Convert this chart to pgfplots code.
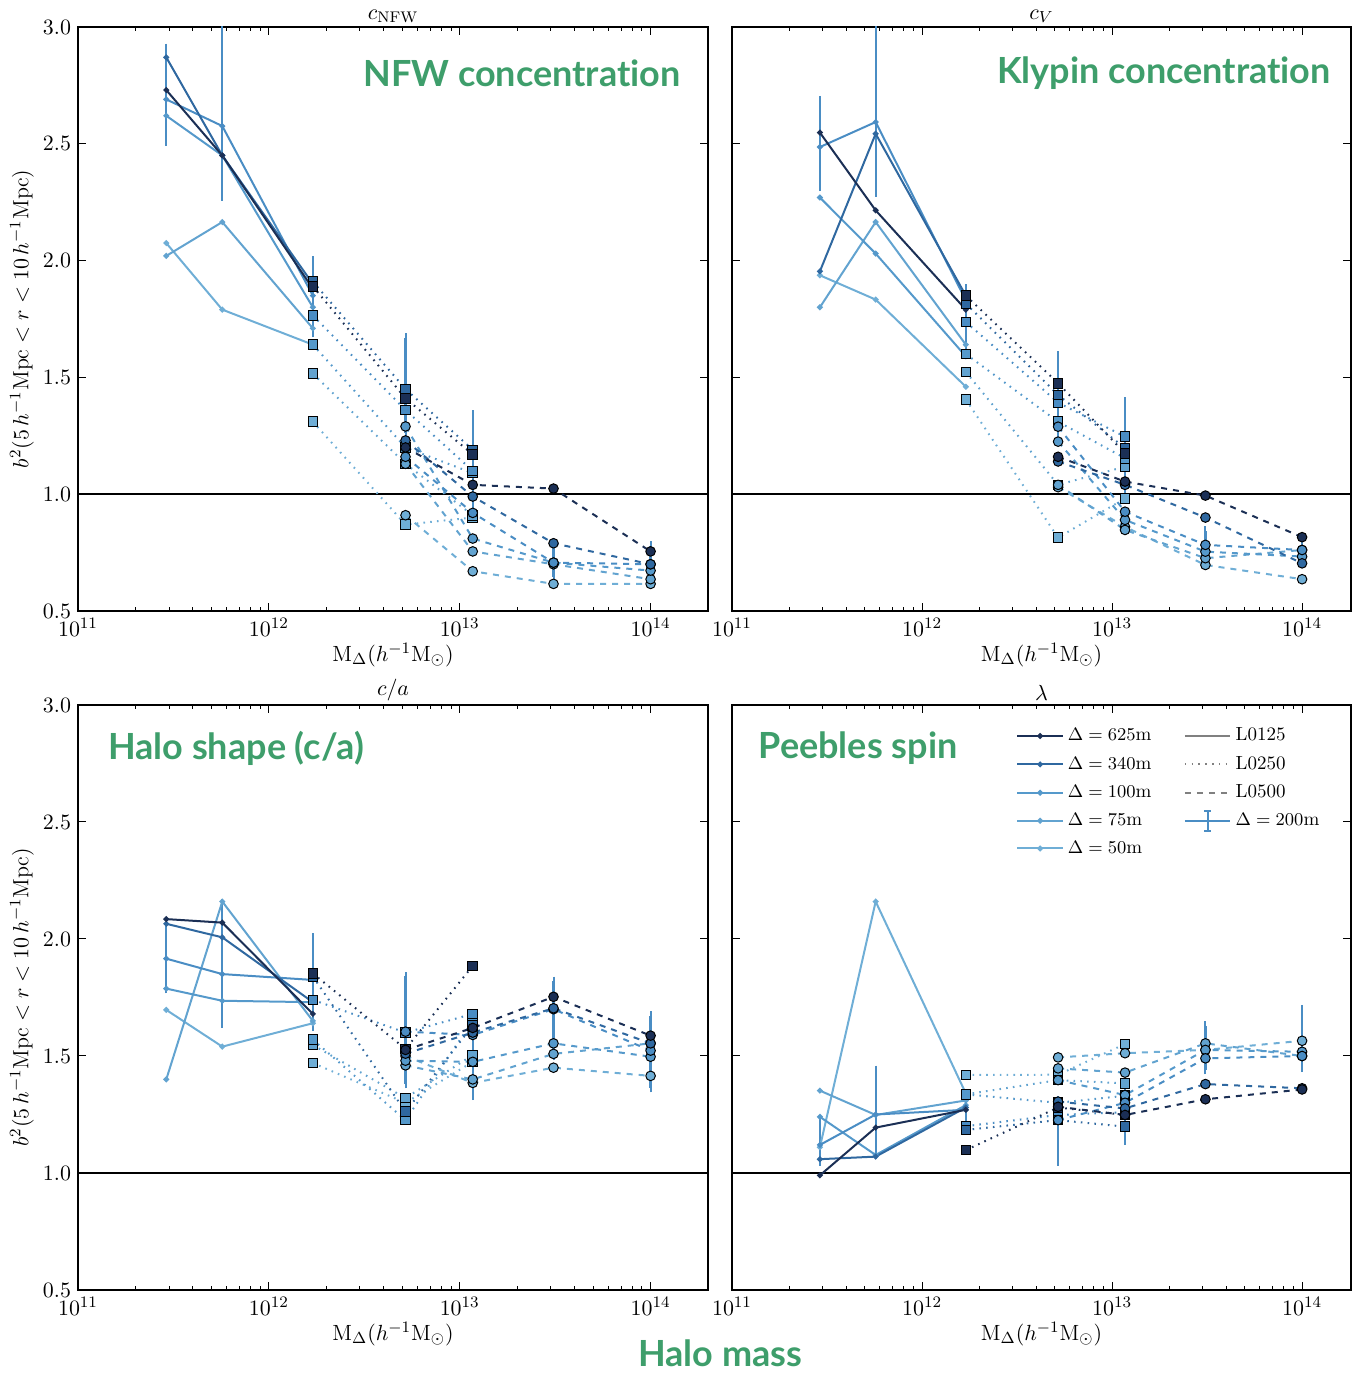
\documentclass[border=0pt]{standalone}
\usepackage{pgfplots}
\pgfplotsset{compat=1.18}
\usepackage{fontspec}
\newfontfamily\annotfont{Lato}[Ligatures=NoCommon]
\definecolor{c625}{HTML}{1B2F55}
\definecolor{c340}{HTML}{2F68A0}
\definecolor{c200}{HTML}{4A8DC4}
\definecolor{c100}{HTML}{5599CB}
\definecolor{c75}{HTML}{62A3D0}
\definecolor{c50}{HTML}{6FAED6}
\definecolor{annot}{HTML}{3E9E6B}
\pgfplotsset{
  every axis/.append style={
    scale only axis, width=315pt, height=292pt,
    xmode=log, xmin=1e11, xmax=2e14,
    ymin=0.5, ymax=3.0,
    ytick={0.5,1.0,1.5,2.0,2.5,3.0},
    yticklabel style={/pgf/number format/fixed,/pgf/number format/fixed zerofill,/pgf/number format/precision=1},
    tick label style={font=\fontsize{11}{13}\selectfont},
    label style={font=\fontsize{11}{13}\selectfont},
    axis line style={line width=0.8pt, black},
    major tick length=4pt, minor tick length=2pt,
    tick style={black, line width=0.5pt},
    xlabel={$\mathrm{M}_\Delta(h^{-1}\mathrm{M}_\odot)$},
    xlabel style={at={(axis description cs:0.5,-0.075)}, anchor=center},
  },
  s125/.style={forget plot, solid, line width=1pt, mark=*, mark size=0.9pt},
  s250/.style={forget plot, line width=1pt, dash pattern=on 0.8pt off 2.6pt, mark=square*, mark size=2.4pt, mark options={solid, draw=black, line width=0.5pt}},
  s500/.style={forget plot, line width=1pt, dash pattern=on 3pt off 3pt, mark=*, mark size=2.4pt, mark options={solid, draw=black, line width=0.5pt}},
}
\newcommand{\LA}[4]{\addplot[#1,s125] coordinates {(2.9e11,#2)(5.7e11,#3)(1.7e12,#4)};}
\newcommand{\LB}[4]{\addplot[#1,s250] coordinates {(1.7e12,#2)(5.2e12,#3)(1.17e13,#4)};}
\newcommand{\LC}[5]{\addplot[#1,s500] coordinates {(5.2e12,#2)(1.17e13,#3)(3.1e13,#4)(1e14,#5)};}
\newcommand{\one}{\addplot[black, line width=1.2pt, forget plot] coordinates {(1e11,1)(3e14,1)};}
\newcommand{\ERR}[1]{\addplot[c200, forget plot, draw=none, mark=none,
  /pgfplots/error bars/y dir=both, /pgfplots/error bars/y explicit,
  /pgfplots/error bars/error bar style={c200, line width=1.1pt, solid},
  /pgfplots/error bars/error mark options={c200, line width=1pt, mark size=2.2pt}] coordinates {#1};}
\begin{document}
\begin{tikzpicture}
% ---------------- top left: c_NFW
\begin{axis}[at={(39pt,381.5pt)}, anchor=south west,
  title={$c_{\mathrm{NFW}}$},
  title style={font=\fontsize{11}{13}\selectfont, yshift=-7.5pt},
  ylabel={$b^2(5\,h^{-1}\mathrm{Mpc}<r<10\,h^{-1}\mathrm{Mpc})$},
  ylabel style={at={(axis description cs:-0.089,0.5)}, anchor=center}]
\one
\ERR{(2.9e11,2.69) += (0,0.22) -= (0,0.18) (5.7e11,2.576) += (0,0.6) -= (0,0.30) (1.7e12,1.85) += (0,0.15) -= (0,0.16) (5.2e12,1.36) += (0,0.31) -= (0,0.10) (1.17e13,1.10) += (0,0.24) -= (0,0.20) (3.1e13,0.707) += (0,0.08) -= (0,0.06) (1e14,0.70) += (0,0.08) -= (0,0.03)}
\LA{c50}{2.075}{1.79}{1.64}
\LA{c75}{2.02}{2.165}{1.71}
\LA{c100}{2.62}{2.45}{1.80}
\LA{c200}{2.69}{2.576}{1.85}
\LA{c340}{2.87}{2.45}{1.90}
\LA{c625}{2.73}{2.45}{1.88}
\LB{c50}{1.31}{0.87}{0.90}
\LB{c75}{1.516}{1.13}{0.91}
\LB{c100}{1.64}{1.20}{1.09}
\LB{c200}{1.765}{1.36}{1.10}
\LB{c340}{1.91}{1.45}{1.19}
\LB{c625}{1.89}{1.41}{1.17}
\LC{c50}{0.91}{0.67}{0.616}{0.616}
\LC{c75}{1.13}{0.755}{0.70}{0.636}
\LC{c100}{1.29}{0.81}{0.707}{0.673}
\LC{c200}{1.16}{0.92}{0.707}{0.70}
\LC{c340}{1.23}{0.99}{0.79}{0.70}
\LC{c625}{1.20}{1.04}{1.024}{0.755}
\end{axis}
% ---------------- top right: c_V
\begin{axis}[at={(366pt,381.5pt)}, anchor=south west, width=309.5pt, xmax=1.81e14,
  title={$c_V$}, title style={font=\fontsize{11}{13}\selectfont, yshift=-7.5pt},
  yticklabels={}]
\one
\ERR{(2.9e11,2.486) += (0,0.20) -= (0,0.17) (5.7e11,2.593) += (0,0.6) -= (0,0.30) (1.7e12,1.83) += (0,0.05) -= (0,0.2) (5.2e12,1.392) += (0,0.2) -= (0,0.15) (1.17e13,1.246) += (0,0.15) -= (0,0.25) (3.1e13,0.783) += (0,0.06) -= (0,0.06) (1e14,0.761) += (0,0.02) -= (0,0.05)}
\LA{c50}{1.937}{1.833}{1.46}
\LA{c75}{1.80}{2.165}{1.64}
\LA{c100}{2.27}{2.03}{1.59}
\LA{c200}{2.486}{2.593}{1.83}
\LA{c340}{1.954}{2.543}{1.85}
\LA{c625}{2.548}{2.215}{1.79}
\LB{c50}{1.405}{0.814}{0.982}
\LB{c75}{1.523}{1.04}{1.118}
\LB{c100}{1.60}{1.31}{1.154}
\LB{c200}{1.737}{1.392}{1.246}
\LB{c340}{1.816}{1.425}{1.197}
\LB{c625}{1.85}{1.475}{1.175}
\LC{c50}{1.03}{0.86}{0.697}{0.636}
\LC{c75}{1.04}{0.847}{0.726}{0.761}
\LC{c100}{1.225}{0.89}{0.754}{0.733}
\LC{c200}{1.289}{0.925}{0.783}{0.761}
\LC{c340}{1.14}{1.04}{0.90}{0.704}
\LC{c625}{1.16}{1.054}{0.994}{0.816}
\end{axis}
% ---------------- bottom left: c/a
\begin{axis}[at={(39pt,42pt)}, anchor=south west, height=292.5pt,
  title={$c/a$}, title style={font=\fontsize{11}{13}\selectfont, yshift=-7.5pt},
  ylabel={$b^2(5\,h^{-1}\mathrm{Mpc}<r<10\,h^{-1}\mathrm{Mpc})$},
  ylabel style={at={(axis description cs:-0.089,0.5)}, anchor=center}]
\one
\ERR{(2.9e11,1.916) += (0,0.13) -= (0,0.13) (5.7e11,1.85) += (0,0.3) -= (0,0.21) (1.7e12,1.825) += (0,0.18) -= (0,0.2) (5.2e12,1.60) += (0,0.24) -= (0,0.22) (1.17e13,1.59) += (0,0.05) -= (0,0.26) (3.1e13,1.70) += (0,0.12) -= (0,0.2) (1e14,1.523) += (0,0.15) -= (0,0.16)}
\LA{c50}{1.697}{1.54}{1.64}
\LA{c75}{1.40}{2.16}{1.65}
\LA{c100}{1.788}{1.736}{1.73}
\LA{c200}{1.916}{1.85}{1.825}
\LA{c340}{2.065}{2.007}{1.73}
\LA{c625}{2.085}{2.07}{1.68}
\LB{c50}{1.47}{1.30}{1.475}
\LB{c75}{1.547}{1.32}{1.504}
\LB{c100}{1.57}{1.226}{1.65}
\LB{c200}{1.74}{1.60}{1.68}
\LB{c340}{1.84}{1.262}{1.63}
\LB{c625}{1.853}{1.53}{1.885}
\LC{c50}{1.50}{1.385}{1.45}{1.415}
\LC{c75}{1.46}{1.40}{1.509}{1.554}
\LC{c100}{1.48}{1.475}{1.554}{1.497}
\LC{c200}{1.604}{1.59}{1.70}{1.523}
\LC{c340}{1.51}{1.60}{1.704}{1.554}
\LC{c625}{1.526}{1.62}{1.753}{1.587}
\end{axis}
% ---------------- bottom right: lambda
\begin{axis}[at={(366pt,42pt)}, anchor=south west, width=309.5pt, height=292.5pt, xmax=1.81e14,
  title={$\lambda$}, title style={font=\fontsize{11}{13}\selectfont, yshift=-7.5pt},
  yticklabels={},
  legend columns=2,
  legend cell align=left,
  legend image code/.code={\draw[mark repeat=2,mark phase=2,#1] plot coordinates {(0cm,0cm) (0.4cm,0cm) (0.8cm,0cm)};},
  legend style={at={(0.449,0.975)}, anchor=north west, draw=none, fill=none,
    font=\fontsize{9.5}{11}\selectfont, row sep=2.2pt,
    /tikz/every even column/.append style={column sep=14pt}}]
\one
\ERR{(2.9e11,1.12) += (0,0.09) -= (0,0.07) (5.7e11,1.25) += (0,0.19) -= (0,0.17) (1.7e12,1.27) += (0,0.05) -= (0,0.05) (5.2e12,1.25) += (0,0.06) -= (0,0.2) (1.17e13,1.30) += (0,0.05) -= (0,0.16) (3.1e13,1.49) += (0,0.14) -= (0,0.05) (1e14,1.50) += (0,0.20) -= (0,0.05)}
\LA{c50}{1.11}{2.16}{1.34}
\LA{c75}{1.352}{1.248}{1.31}
\LA{c100}{1.24}{1.077}{1.29}
\LA{c200}{1.12}{1.25}{1.27}
\LA{c340}{1.059}{1.07}{1.28}
\LA{c625}{0.99}{1.194}{1.27}
\LB{c50}{1.419}{1.42}{1.551}
\LB{c75}{1.336}{1.397}{1.383}
\LB{c100}{1.336}{1.30}{1.33}
\LB{c200}{1.20}{1.248}{1.26}
\LB{c340}{1.184}{1.226}{1.198}
\LB{c625}{1.098}{1.28}{1.248}
\LC{c50}{1.494}{1.512}{1.526}{1.565}
\LC{c75}{1.447}{1.429}{1.554}{1.50}
\LC{c100}{1.397}{1.333}{1.526}{1.518}
\LC{c200}{1.226}{1.30}{1.49}{1.50}
\LC{c340}{1.305}{1.276}{1.38}{1.362}
\LC{c625}{1.283}{1.248}{1.315}{1.357}
\addlegendimage{c625, line width=1pt, mark=*, mark size=0.9pt}
\addlegendentry{$\Delta=625$m}
\addlegendimage{gray, line width=1.3pt}
\addlegendentry{L0125}
\addlegendimage{c340, line width=1pt, mark=*, mark size=0.9pt}
\addlegendentry{$\Delta=340$m}
\addlegendimage{gray, line width=1pt, dash pattern=on 0.8pt off 2.6pt}
\addlegendentry{L0250}
\addlegendimage{c100, line width=1pt, mark=*, mark size=0.9pt}
\addlegendentry{$\Delta=100$m}
\addlegendimage{gray, line width=1pt, dash pattern=on 3pt off 3pt}
\addlegendentry{L0500}
\addlegendimage{c75, line width=1pt, mark=*, mark size=0.9pt}
\addlegendentry{$\Delta=75$m}
\addlegendimage{legend image code/.code={\draw[c200, line width=1pt] (0cm,0cm) -- (0.8cm,0cm); \draw[c200, line width=1pt] (0.4cm,-5pt) -- (0.4cm,5pt); \draw[c200, line width=0.8pt] (0.34cm,5pt) -- (0.46cm,5pt); \draw[c200, line width=0.8pt] (0.34cm,-5pt) -- (0.46cm,-5pt);}}
\addlegendentry{$\Delta=200$m}
\addlegendimage{c50, line width=1pt, mark=*, mark size=0.9pt}
\addlegendentry{$\Delta=50$m}
\end{axis}
% ---------------- annotations
\begin{scope}[every node/.style={font=\annotfont\bfseries\fontsize{18}{20}\selectfont, text=annot}]
\node at (261pt,650.5pt) {NFW concentration};
\node at (582pt,650.5pt) {Klypin concentration};
\node at (118pt,313pt) {Halo shape (c/a)};
\node at (429pt,313pt) {Peebles spin};
\node at (360pt,10.5pt) {Halo mass};
\end{scope}
\pgfresetboundingbox
\path[use as bounding box] (0,0) rectangle (675.5pt,687pt);
\end{tikzpicture}
\end{document}
